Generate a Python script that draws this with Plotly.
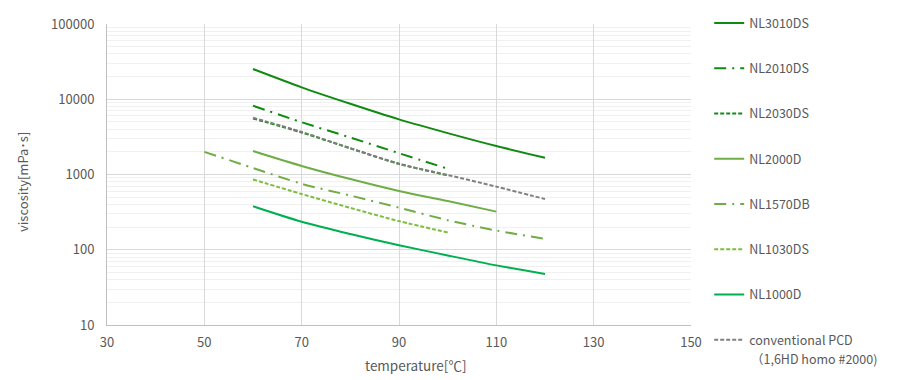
import plotly.graph_objects as go

# ---- data ----
temp_60_120 = [60, 70, 80, 90, 100, 110, 120]
temp_60_110 = [60, 70, 80, 90, 100, 110]
temp_60_100 = [60, 70, 80, 90, 100]
temp_50_120 = [50, 60, 70, 80, 90, 100, 110, 120]

nl3010ds = [25200, 14400, 8700, 5400, 3550, 2390, 1670]
nl2010ds = [8200, 4950, 3100, 1920, 1195]
nl2030ds = [5550, 3620, 2230, 1390, 975]
nl2000d = [2050, 1300, 870, 604, 444, 321]
nl1570db = [2000, 1220, 753, 525, 363, 247, 180, 140]
nl1030ds = [860, 550, 360, 240, 170]
nl1000d = [378, 236, 162, 115, 84, 62, 47.6]
pcd = [5680, 3680, 2230, 1380, 985, 690, 472]

series_names = ["NL3010DS", "NL2010DS", "NL2030DS", "NL2000D",
                "NL1570DB", "NL1030DS", "NL1000D", "conventional PCD"]
pcd_note = "（1,6HD homo #2000)"

x_ticks = [30, 50, 70, 90, 110, 130, 150]
y_tickvals = [10, 100, 1000, 10000, 100000]
y_ticktext = ["10", "100", "1000", "10000", "100000"]

x_title = "temperature[℃]"
y_title = "viscosity[mPa･s]"

# ---- styles ----
DARK = "#108A10"
MID = "#70AD47"
LIGHT = "#7DBE3F"
BRIGHT = "#00B050"
GRAY = "#7F7F7F"
DASHDOT = "12px,6px,2px,6px"
SHORT = "4px,2px"

series = [
    (temp_60_120, nl3010ds, DARK, "solid"),
    (temp_60_100, nl2010ds, DARK, DASHDOT),
    (temp_60_100, nl2030ds, DARK, SHORT),
    (temp_60_110, nl2000d, MID, "solid"),
    (temp_50_120, nl1570db, MID, DASHDOT),
    (temp_60_100, nl1030ds, LIGHT, SHORT),
    (temp_60_120, nl1000d, BRIGHT, "solid"),
    (temp_60_120, pcd, GRAY, SHORT),
]

FONT = "Noto Sans CJK JP, Noto Sans, sans-serif"
TXT = "#595959"

W, H = 900, 380
ML, MR, MT, MB = 107, 209, 24, 55
PW, PH = W - ML - MR, H - MT - MB


def px_x(px):
    return (px - ML) / PW


def px_y(py):
    return (H - MB - py) / PH


fig = go.Figure()
for i, ((xs, ys, col, dash), name) in enumerate(zip(series, series_names)):
    fig.add_trace(go.Scatter(
        x=xs, y=ys, name=name, mode="lines",
        line=dict(color=col, width=2, dash=dash, shape="spline", smoothing=0.8),
        legendgroup=f"g{i}",
        hoverinfo="skip",
    ))

fig.update_layout(
    width=W, height=H,
    margin=dict(l=ML, r=MR, t=MT, b=MB),
    paper_bgcolor="white", plot_bgcolor="white",
    font=dict(family=FONT, size=12, color=TXT),
    showlegend=True,
    legend=dict(
        xref="container", yref="container",
        x=0.788, xanchor="left", y=0.978, yanchor="top",
        traceorder="grouped", tracegroupgap=26.0,
        font=dict(family=FONT, size=12.5, color=TXT),
        valign="top", bgcolor="rgba(0,0,0,0)",
        maxheight=400,
    ),
    xaxis=dict(
        range=[30, 150], tickvals=x_ticks, ticktext=[str(v) for v in x_ticks],
        showgrid=True, gridcolor="#D9D9D9", gridwidth=1,
        showline=True, linecolor="#BFBFBF", linewidth=1,
        zeroline=False, ticks="", ticklabelstandoff=5,
        tickfont=dict(size=13, color=TXT),
        automargin=False, fixedrange=True,
    ),
    yaxis=dict(
        type="log", range=[1, 5],
        tickvals=y_tickvals, ticktext=y_ticktext,
        showgrid=True, gridcolor="#D9D9D9", gridwidth=1,
        minor=dict(dtick="D1", showgrid=True, gridcolor="#F0F0F0", gridwidth=1, ticks=""),
        showline=True, linecolor="#BFBFBF", linewidth=1,
        zeroline=False, ticks="", ticklabelstandoff=9,
        tickfont=dict(size=13, color=TXT),
        automargin=False, fixedrange=True,
    ),
    annotations=[
        dict(text=x_title, xref="paper", yref="paper",
             x=px_x(415), y=px_y(365), xanchor="center", yanchor="middle",
             showarrow=False, font=dict(size=13.5, color=TXT, family=FONT)),
        dict(text=y_title, xref="paper", yref="paper", textangle=-90,
             x=px_x(22), y=px_y(182), xanchor="center", yanchor="middle",
             showarrow=False, font=dict(size=13, color=TXT, family=FONT)),
        dict(text=pcd_note, xref="paper", yref="paper",
             x=px_x(749), y=px_y(358.5), xanchor="left", yanchor="middle",
             showarrow=False, font=dict(size=12.5, color=TXT, family=FONT)),
    ],
)

fig.write_html("out.html")
